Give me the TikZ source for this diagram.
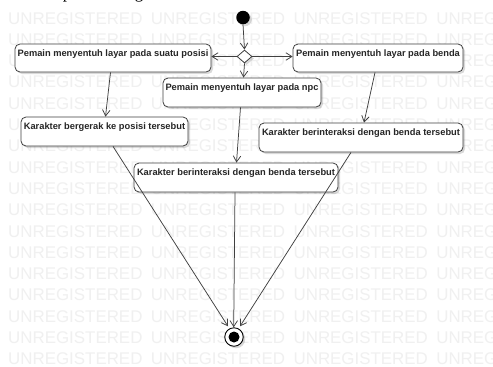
\documentclass[tikz,border=0pt]{standalone}
\usepackage{fontspec}
\setmainfont{Liberation Sans}
\newfontfamily\serifpart{Liberation Serif}
\usetikzlibrary{arrows.meta,shapes.geometric,shadows,calc}
\definecolor{wm}{HTML}{F0F0F0}
\definecolor{ink}{HTML}{404040}
\tikzset{
  wmtext/.style={anchor=base west,inner sep=0pt,text=wm,font=\fontsize{16.9bp}{17bp}\selectfont},
  softshadow/.style={drop shadow={shadow xshift=2bp,shadow yshift=-2bp,fill=black,opacity=.15}},
  actbox/.style={draw=ink,line width=.8bp,fill=white,rounded corners=5bp,inner sep=0pt,align=center,
     text=black!85,font=\fontsize{9.3bp}{11bp}\selectfont\bfseries,text height=12bp,softshadow},
  flow/.style={draw=ink,line width=.75bp,-{Straight Barb[length=6bp,width=7.5bp]}},
  decisionbox/.style={diamond,draw=ink,line width=.8bp,fill=white,inner sep=0pt,minimum width=15bp,minimum height=13bp,aspect=1.15,softshadow},
  startdot/.style={circle,fill=black,inner sep=0pt,minimum size=13.5bp,softshadow},
  enddot/.style={circle,draw=black,line width=.9bp,fill=white,inner sep=0pt,minimum size=18.5bp,softshadow},
  enddotinner/.style={circle,fill=black,inner sep=0pt,minimum size=11bp},
  pagetext/.style={anchor=base,inner sep=0pt,font=\serifpart\fontsize{17bp}{18bp}\selectfont}
}
\begin{document}
\begin{tikzpicture}[x=1bp,y=-1bp]
\useasboundingbox (0,0) rectangle (493,366);
\fill[white] (0,0) rectangle (493,366);
% watermark
\foreach \r in {0,...,16}{
  \foreach \c in {0,1,2,3}{
    \node[wmtext] (wm\r\c) at ({8+142.7*\c},{24+21.3*\r}) {\ifnum\c=3 UNREG\else UNREGISTERED\fi};
  }
}
% cropped line of page text
\node[pagetext] (pagep) at (67,-1.5) {p};
\node[pagetext] (pageg) at (139,-1.5) {g};
% nodes
\node[startdot] (start) at (243,17.5) {};
\node[decisionbox] (dec) at (244.5,56.5) {};
\node[actbox,minimum width=196bp,text depth=16bp] (a1) at (113,58) {Pemain menyentuh layar pada suatu posisi};
\node[actbox,minimum width=158bp,text depth=17bp] (a2) at (242,92.5) {Pemain menyentuh layar pada npc};
\node[actbox,minimum width=170bp,text depth=16bp] (a3) at (378,58) {Pemain menyentuh layar pada benda};
\node[actbox,minimum width=167bp,text depth=17bp] (a4) at (104.5,131.5) {Karakter bergerak ke posisi tersebut};
\node[actbox,minimum width=204bp,text depth=17bp] (a5) at (361,137.5) {Karakter berinteraksi dengan benda tersebut};
\node[actbox,minimum width=204bp,text depth=17bp] (a6) at (236,177.5) {Karakter berinteraksi dengan benda tersebut};
\node[enddot] (end) at (234,337) {};
\node[enddotinner] (endin) at (234,337) {};
% connectors
\draw[flow] (start.south) -- (dec.north);
\draw[flow] (dec.west) -- (a1.east |- dec.west);
\draw[flow] (dec.east) -- (a3.west |- dec.east);
\draw[flow] (dec.south) -- ([xshift=1.5bp]a2.north);
\draw[flow] ([xshift=-2.5bp]a1.south) -- ([xshift=1bp]a4.north);
\draw[flow] ([xshift=-3bp]a3.south) -- ([xshift=3bp]a5.north);
\draw[flow] ([xshift=-1.5bp]a2.south) -- ([xshift=.5bp]a6.north);
\draw[flow] ([xshift=8.5bp]a4.south) -- ([xshift=-6bp,yshift=1bp]end.north);
\draw[flow] ([xshift=-1bp]a6.south) -- ([xshift=-.3bp]end.north);
\draw[flow] ([xshift=-10bp]a5.south) -- ([xshift=6bp,yshift=1bp]end.north);
\end{tikzpicture}
\end{document}
